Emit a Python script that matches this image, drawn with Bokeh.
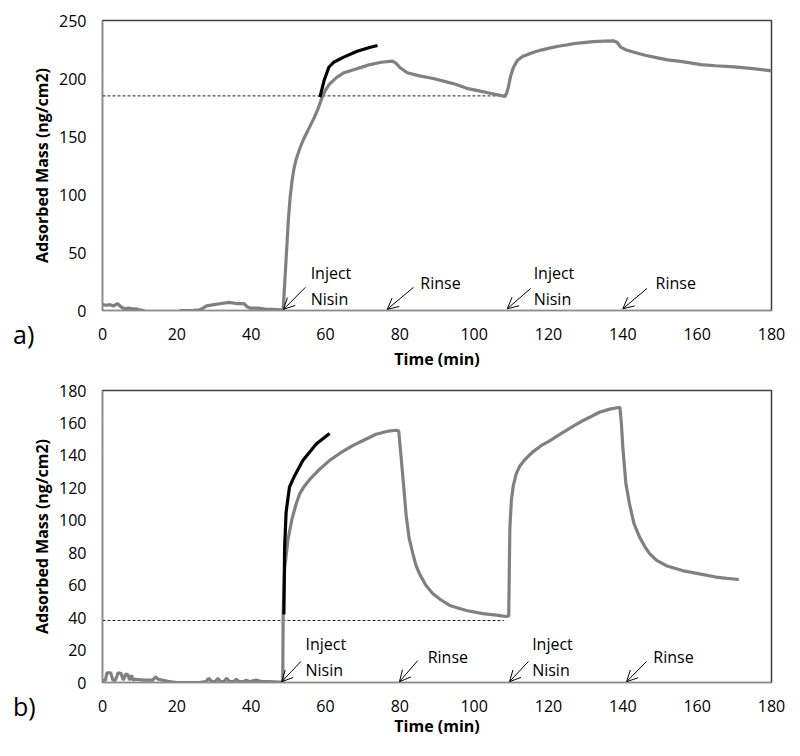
from bokeh.plotting import figure
from bokeh.layouts import column
from bokeh.models import Range1d, FixedTicker, Arrow, OpenHead, Div, ColumnDataSource
from bokeh.core.properties import value
from bokeh.embed import file_html
from bokeh.resources import INLINE

# ---------------- data: panel a ----------------
a_gray_t = [0, 1, 2, 3, 4, 5, 6, 7, 8, 9, 10, 11, 12, 20, 21, 24, 26, 27, 28, 30, 32, 34, 36, 38, 39, 40,
            42, 44, 46, 48, 48.6, 49, 49.5, 50, 50.5, 51, 51.5, 52, 53, 54, 55, 56, 57, 58, 59, 60, 61, 63, 65,
            68, 70, 72, 75, 78, 79, 80, 82, 85, 89, 92, 95, 98, 101, 104, 107, 108.3, 108.7, 109.2, 109.8, 110.5,
            111.6, 113, 116, 118, 120.5, 123, 125, 127, 129.4, 132, 135, 137.5, 138.5, 139.4, 141, 143, 146, 149,
            152, 156, 161, 165, 170, 175, 180]
a_gray_y = [5, 4.5, 5, 4, 6, 3, 1.5, 2, 1.5, 1.5, 0.5, 0, -4, -4, 0, 0, 0.5, 2, 4, 5, 6, 7, 6, 6, 3, 2,
            2, 1, 1, 0.5, 0, 22, 50, 78, 98, 112, 122, 129, 139, 147, 153.5, 160, 166.5, 174, 183, 190, 195, 201,
            205, 208, 210, 212, 214, 215, 213, 209.5, 205, 202.5, 200, 197.5, 195, 191.5, 189.5, 187.5, 185.5,
            184.5, 187, 192.5, 202, 209, 215.5, 219, 222.7, 224.5, 226.4, 228, 229, 230.2, 231, 231.8, 232.3,
            232.5, 231, 227, 224.5, 222.7, 220, 218, 216, 214.5, 212, 211, 210, 208.5, 206.6]
a_black_t = [58.5, 59.6, 60.9, 62.2, 64.9, 68.5, 72.1, 74]
a_black_y = [184, 198, 209.7, 214, 218.4, 223.5, 227, 228.5]
a_ref_level = 185
a_ref_t = [0, 108]

# ---------------- data: panel b ----------------
b_gray_t = [0, 0.8, 1.2, 2.2, 2.8, 3.5, 4.2, 5, 5.6, 6.2, 6.8, 7.3, 7.8, 8.3, 9, 11, 13.5, 14.3, 15,
            17, 18, 20, 23, 26, 27.8, 28.6, 29.4, 30.3, 31, 31.8, 32.6, 33.4, 34.2, 35.2, 36, 36.8, 38, 38.7,
            39.5, 41.3, 43, 45, 47.5, 48.5, 48.6, 49, 49.9, 51, 52.1, 53, 54, 55.7, 58, 61.1, 64, 67.3, 70,
            73.6, 77, 79, 79.7, 80.3, 81, 81.7, 82.5, 83.5, 84.3, 85.3, 87, 88.9, 91, 93.4, 97.9, 102.3, 106,
            108.6, 109.3, 109.6, 110, 110.5, 111.3, 112.3, 113.5, 115.7, 118, 120.3, 122.5, 124.8, 127, 129.3,
            131.5, 133.7, 136.5, 139.2, 139.6, 140, 140.8, 141.8, 143, 144.5, 146, 147.2, 149, 151.7, 156, 160.6,
            165, 168, 171.2]
b_gray_y = [1, 1.5, 6, 6, 1.5, 1.5, 6, 5.5, 1.5, 5, 5, 1.5, 4.5, 1.5, 2, 1.5, 1.5, 3.5, 2, 1, 0.5, 0, 0, 0, 0.5,
            2.5, 0.5, 0.5, 2.5, 0.5, 0.5, 2.5, 0.5, 0.5, 2, 0.5, 0.5, 1.5, 0.5, 1.5, 0.5, 0.5, 0.3, 0.3, 42,
            70, 88, 101, 110, 116, 120, 125, 130.5, 136.9, 141.5, 146, 149, 153, 155, 155.5, 155, 140, 122,
            103, 89, 79.5, 72.5, 67, 60, 54.7, 51, 47.5, 44.4, 42.5, 41.5, 40.7, 41, 95, 112, 121, 128.6,
            133.5, 137, 142, 146, 149, 152.2, 155.4, 158.5, 161.5, 164, 166.6, 168.5, 169.7, 160, 145, 123,
            110, 98, 89.6, 83.5, 79.5, 75.5, 72, 69, 67, 65, 64.2, 63.5]
b_black_t = [48.8, 49.0, 49.4, 50.3, 51.7, 53.9, 57.5, 61.1]
b_black_y = [42, 83, 105, 120.4, 127.5, 136.9, 147, 153.5]
b_ref_level = 38.2
b_ref_t = [0, 108]

# ---------------- annotations (arrow start -> end, text position) ----------------
a_arrow_x0 = [54.6, 83.7, 115.2, 146.5]
a_arrow_y0 = [20, 20, 19, 19]
a_arrow_x1 = [48.7, 76.6, 108.9, 140.0]
a_arrow_y1 = [1, 1, 1.5, 1.5]
a_text = ["Inject", "Nisin", "Rinse", "Inject", "Nisin", "Rinse"]
a_text_x = [56.0, 56.0, 85.5, 116.0, 116.0, 148.8]
a_text_y = [32, 10, 24, 32, 10, 24]

b_arrow_x0 = [53.4, 84.8, 114.6, 146.4]
b_arrow_y0 = [13, 13.5, 13, 13]
b_arrow_x1 = [48.2, 79.9, 109.5, 141.0]
b_arrow_y1 = [0.5, 0.5, 0.5, 0.5]
b_text = ["Inject", "Nisin", "Rinse", "Inject", "Nisin", "Rinse"]
b_text_x = [54.6, 54.6, 87.5, 115.6, 115.6, 148.2]
b_text_y = [24, 8, 15.6, 24, 8, 15.6]

x_ticks = [0, 20, 40, 60, 80, 100, 120, 140, 160, 180]
a_y_ticks = [0, 50, 100, 150, 200, 250]
b_y_ticks = [0, 20, 40, 60, 80, 100, 120, 140, 160, 180]

panel_labels = ["a)", "b)"]

FONT = "Open Sans"
GRAY = "#808080"


def make_panel(height, frame_top, frame_bottom_border, y_max, y_ticks,
               gray_t, gray_y, black_t, black_y, ref_level, ref_t,
               ax0, ay0, ax1, ay1, texts, tx, ty, xlabel_standoff):
    p = figure(width=792, height=height, output_backend="svg", toolbar_location=None,
               x_range=Range1d(0, 180), y_range=Range1d(0, y_max),
               min_border_left=102, min_border_right=21, min_border_top=frame_top,
               min_border_bottom=frame_bottom_border)
    p.grid.visible = False
    p.outline_line_color = "#404040"
    p.outline_line_width = 1.5
    p.background_fill_color = "white"
    p.border_fill_color = "white"

    p.xaxis.ticker = FixedTicker(ticks=x_ticks)
    p.yaxis.ticker = FixedTicker(ticks=y_ticks)
    for ax in (p.xaxis[0], p.yaxis[0]):
        ax.axis_line_color = "#8c8c8c"
        ax.axis_line_width = 1.2
        ax.major_tick_line_color = None
        ax.minor_tick_line_color = None
        ax.major_tick_in = 0
        ax.major_tick_out = 0
        ax.minor_tick_out = 0
        ax.major_label_text_font = FONT
        ax.major_label_text_font_size = "16px"
        ax.major_label_text_color = "black"
        ax.axis_label_text_font = FONT
        ax.axis_label_text_font_size = "16px"
        ax.axis_label_text_font_style = "bold"
        ax.axis_label_text_color = "black"
    p.xaxis.axis_label = "Time (min)"
    p.yaxis.axis_label = "Adsorbed Mass (ng/cm2)"
    p.xaxis.major_label_standoff = 17
    p.xaxis.axis_label_standoff = xlabel_standoff
    p.yaxis.major_label_standoff = 16
    p.yaxis.axis_label_standoff = 3

    p.line(ref_t, [ref_level, ref_level], line_color="#222222", line_width=1, line_dash="3 2")

    p.line(gray_t, gray_y, line_color=GRAY, line_width=3.2)
    p.line(black_t, black_y, line_color="black", line_width=3.2)

    for i in range(len(ax0)):
        p.add_layout(Arrow(end=OpenHead(size=11, line_width=1, line_color="black"),
                           x_start=ax0[i], y_start=ay0[i], x_end=ax1[i], y_end=ay1[i],
                           line_color="black", line_width=1))
    src = ColumnDataSource(dict(x=tx, y=ty, t=texts))
    p.text(x="x", y="y", text="t", source=src, text_font=value(FONT), text_font_size="16px",
           text_baseline="middle", text_align="left", text_color="black")
    return p


def panel_label(text, top):
    return Div(text=text, width=30, height=28,
               styles={"position": "absolute", "left": "13px", "top": f"{top}px",
                       "font-family": FONT, "font-size": "25px", "line-height": "1",
                       "color": "black", "margin": "0", "padding": "0"})


p1 = make_panel(376, 20, 66, 250, a_y_ticks, a_gray_t, a_gray_y, a_black_t, a_black_y, a_ref_level, a_ref_t,
                a_arrow_x0, a_arrow_y0, a_arrow_x1, a_arrow_y1, a_text, a_text_x, a_text_y, 5)
p2 = make_panel(372, 14, 66, 180, b_y_ticks, b_gray_t, b_gray_y, b_black_t, b_black_y, b_ref_level, b_ref_t,
                b_arrow_x0, b_arrow_y0, b_arrow_x1, b_arrow_y1, b_text, b_text_x, b_text_y, 0)

lab1 = panel_label(panel_labels[0], 322)
lab2 = panel_label(panel_labels[1], 694)

layout = column(p1, p2, lab1, lab2, spacing=0)
open("out.html", "w").write(file_html(layout, INLINE))
